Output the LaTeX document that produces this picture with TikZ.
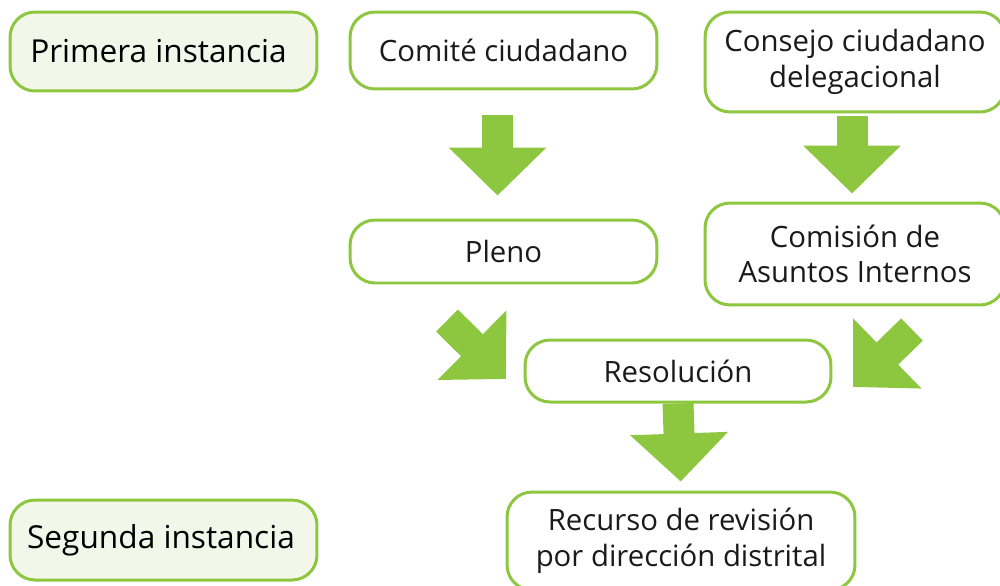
\documentclass[tikz,border=0pt]{standalone}
\usepackage{fontspec}
\setmainfont{Open Sans}
\usetikzlibrary{arrows.meta}
\definecolor{lima}{HTML}{8DC63F}
\definecolor{limapale}{HTML}{F3F7EA}
\definecolor{tinta}{HTML}{1A1A1A}
\begin{document}
\begin{tikzpicture}[x=0.02cm, y=-0.02cm,
		box/.style={draw=lima, line width=0.06cm, rounded corners=0.5cm, fill=white,
			align=center, text=tinta, font=\fontsize{16.7}{20.3}\selectfont, inner sep=0pt},
		tag/.style={box, fill=limapale, text=black, font=\fontsize{18}{21}\selectfont},
		bigarrow/.style={draw=lima, line width=0.62cm, line cap=butt,
			-{Triangle[length=0.96cm, width=1.9cm]}}]
		\useasboundingbox (0,0) rectangle (1000,585);
		% etapa de primera instancia
		\node[tag, minimum width=6.14cm, minimum height=1.58cm] (primera) at (163.5,51.5) {Primera instancia\hspace{0.2cm}};
		\node[box, minimum width=6.14cm, minimum height=1.54cm] (comite) at (503.5,50.5) {Comit\'e ciudadano};
		\node[box, minimum width=6.0cm, minimum height=2.0cm] (consejo) at (855,62) {Consejo ciudadano\\delegacional};
		\node[box, minimum width=6.14cm, minimum height=1.26cm] (pleno) at (503.5,251.5) {Pleno};
		\node[box, minimum width=6.0cm, minimum height=2.04cm] (comision) at (855,254) {Comisi\'on de\\Asuntos Internos};
		\node[box, minimum width=6.12cm, minimum height=1.24cm] (resol) at (678,371) {Resoluci\'on};
		% etapa de segunda instancia
		\node[tag, minimum width=6.14cm, minimum height=1.6cm] (segunda) at (163.5,540) {Segunda instancia\hspace{0.1cm}};
		\node[box, minimum width=6.96cm, minimum height=1.96cm] (recurso) at (681,541) {Recurso de revisi\'on\\por direcci\'on distrital};
		% flechas
		\coordinate (pl-out) at (447,320.5);
		\coordinate (re-inl) at (506,379);
		\coordinate (co-out) at (912,329.5);
		\coordinate (re-inr) at (853,387);
		\draw[bigarrow, shorten <=0.5cm, shorten >=0.46cm] ([xshift=-0.12cm]comite.south) -- ([xshift=-0.12cm]pleno.north);
		\draw[bigarrow, shorten <=0.06cm, shorten >=0.16cm] ([xshift=-0.06cm]consejo.south) -- ([xshift=-0.06cm]comision.north);
		\draw[bigarrow] (pl-out) -- (re-inl);
		\draw[bigarrow] (co-out) -- (re-inr);
		\draw[bigarrow, shorten <=0cm, shorten >=0.18cm] (resol.south) -- (recurso.north);
	\end{tikzpicture}
\end{document}
